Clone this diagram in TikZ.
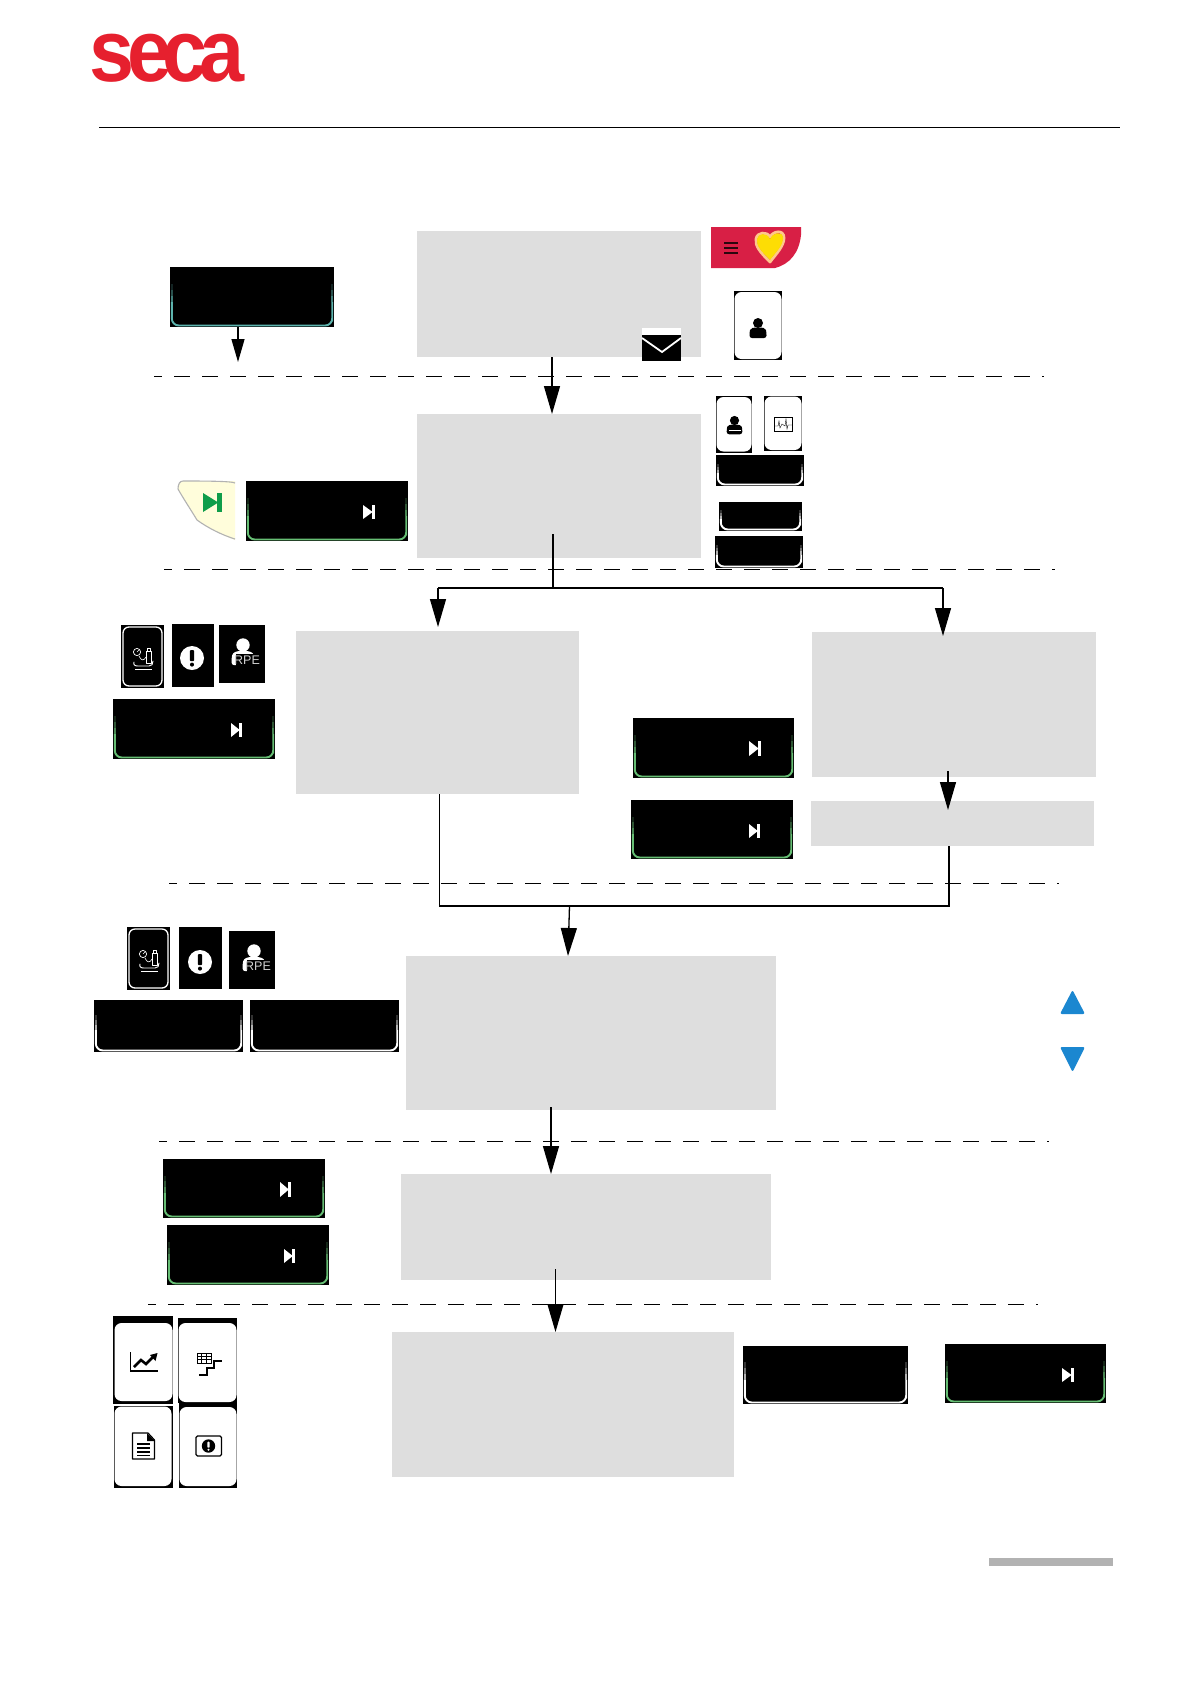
\documentclass[tikz,border=0pt]{standalone}
\usepackage{fontspec}
\setmainfont{Liberation Sans}
\usetikzlibrary{arrows.meta,calc}
\definecolor{boxgray}{HTML}{DEDEDE}
\definecolor{secared}{HTML}{E6202E}
\definecolor{hdrred}{HTML}{D81F45}
\definecolor{btngreen}{HTML}{66BE74}
\definecolor{btnteal}{HTML}{5DB4AE}
\definecolor{skipgreen}{HTML}{0F9D4A}
\definecolor{tripblue}{HTML}{1B87D0}
\definecolor{barcol}{HTML}{B2B2B2}
\tikzset{
  graybox/.style={rectangle,fill=boxgray,inner sep=0pt,outer sep=0pt},
  blackbox/.style={rectangle,fill=black,inner sep=0pt,outer sep=0pt},
  cardface/.style={rectangle,fill=white,rounded corners=7pt,inner sep=0pt,outer sep=0pt},
  flow/.style={line width=1.3pt,-{Triangle[length=28pt,width=16pt]}},
  flowsmall/.style={line width=1.3pt,-{Triangle[length=23pt,width=13pt]}},
  trunk/.style={line width=1.7pt},
  sep/.style={line width=0.95pt,dash pattern=on 16pt off 12pt},
  iconline/.style={line width=0.9pt,line cap=round,line join=round},
}
\newcommand\rectn[6]{\node[#1,minimum width={(#5-#3)*1pt},minimum height={(#6-#4)*1pt},anchor=north west] (#2) at (#3,#4) {};}
% button: name x1 y1 x2 y2 colour
\newcommand\btn[6]{%
  \rectn{blackbox}{#1}{#2}{#3}{#4}{#5}
  \pgfmathsetmacro\bH{#5-#3}
  \draw[#6,line width=1.9pt,rounded corners=7pt] ({#2+1.8},{#5-0.42*\bH}) -- ({#2+1.8},{#5-1.5}) -- ({#4-1.8},{#5-1.5}) -- ({#4-1.8},{#5-1.5}) -- ({#4-1.8},{#5-0.42*\bH});
  \foreach \k/\p in {0/70,1/45,2/20}{
    \draw[#6!\p!black,line width=1.9pt] ({#2+1.8},{#5-(0.42+0.1*\k)*\bH}) -- ({#2+1.8},{#5-(0.52+0.1*\k)*\bH});
    \draw[#6!\p!black,line width=1.9pt] ({#4-1.8},{#5-(0.42+0.1*\k)*\bH}) -- ({#4-1.8},{#5-(0.52+0.1*\k)*\bH});
  }
}
\newcommand\skipi[5]{%
  \pgfmathsetmacro\sW{#3-#1}
  \fill[#5] (#1,#2) -- ({#3-0.2*\sW},{(#2+#4)/2}) -- (#1,#4) -- cycle;
  \fill[#5] ({#3-0.27*\sW},#2) rectangle (#3,#4);
}
% person: cx headcy r colour
\newcommand\personi[4]{%
  \fill[#4] (#1,#2) circle ({#3});
  \fill[#4,rounded corners=2.5pt] ({#1-1.7*#3},{#2+3*#3}) -- ({#1-1.7*#3},{#2+1.9*#3}) .. controls ({#1-1.5*#3},{#2+1.0*#3}) and ({#1-0.8*#3},{#2+0.9*#3}) .. (#1,{#2+0.9*#3}) .. controls ({#1+0.8*#3},{#2+0.9*#3}) and ({#1+1.5*#3},{#2+1.0*#3}) .. ({#1+1.7*#3},{#2+1.9*#3}) -- ({#1+1.7*#3},{#2+3*#3}) -- cycle;
}
% alert: cx cy r circle-colour mark-colour
\newcommand\alerti[5]{%
  \fill[#4] (#1,#2) circle ({#3});
  \fill[#5,rounded corners=0.8pt] ({#1-0.18*#3},{#2-0.65*#3}) rectangle ({#1+0.18*#3},{#2+0.25*#3});
  \fill[#5] (#1,{#2+0.55*#3}) circle ({0.17*#3});
}
% cuff card, origin at top left
\newcommand\cuffcard[2]{%
  \begin{scope}[shift={(#1,#2)}]
    \draw[white,line width=1.3pt,rounded corners=6pt] (2,2) rectangle (41,61);
    \draw[white,line width=0.7pt] (16,27) circle (3.6);
    \draw[white,line width=0.5pt] (16,27) -- (18,25);
    \draw[white,iconline] (25,26) rectangle (30,38);
    \draw[white,iconline] (26,26) -- (26,23.5) -- (29,23.5) -- (29,26);
    \draw[white,line width=0.6pt] (18,31) .. controls (20,36) and (23,36) .. (25,32);
    \draw[white,iconline] (13,37) .. controls (12,40) and (14,41) .. (17,41) -- (28,41) .. controls (31,41) and (32,39) .. (32,36);
    \draw[white,line width=0.7pt] (14,44) -- (31,44);
  \end{scope}
}
% RPE card content: head centre
\newcommand\rpei[3]{%
  \personi{#1}{#2}{6.7}{white}
  \fill[black] ({#1-7},{#2+8.5}) rectangle ({#1+16},{#2+22});
  \node[text=white!82!black,font=\fontsize{12.5}{12.5}\selectfont,inner sep=0pt] (#3) at ({#1+4},{#2+15.5}) {RPE};
}
\begin{document}
\begin{tikzpicture}[x=1pt,y=-1pt]
\useasboundingbox (0,0) rectangle (1190,1684);
\fill[white] (0,0) rectangle (1190,1684);

% logo and header rule
\node[text=secared,inner sep=0pt,font=\fontsize{88}{88}\bfseries\selectfont,xscale=0.92,anchor=center] (logo) at (167,58) {s\kern-8pt e\kern-10pt c\kern-9pt a};
\coordinate (ruleL) at (99,127.5);
\coordinate (ruleR) at (1120,127.5);
\draw[line width=1.2pt] (ruleL) -- (ruleR);

% grey text boxes
\rectn{graybox}{b1}{417}{231}{701}{357}
\rectn{graybox}{b2}{417}{414}{701}{558}
\rectn{graybox}{b3}{296}{631}{579}{794}
\rectn{graybox}{b4}{812}{632}{1096}{777}
\rectn{graybox}{b5}{811}{801}{1094}{846}
\rectn{graybox}{b6}{406}{956}{776}{1110}
\rectn{graybox}{b7}{401}{1174}{771}{1280}
\rectn{graybox}{b8}{392}{1332}{734}{1477}

% separators
\coordinate (s1a) at (154,376); \coordinate (s1b) at (1044,376);
\coordinate (s2a) at (164,569); \coordinate (s2b) at (1055,569);
\coordinate (s3a) at (169,883); \coordinate (s3b) at (1059,883);
\coordinate (s4a) at (159,1141); \coordinate (s4b) at (1049,1141);
\coordinate (s5a) at (148,1304); \coordinate (s5b) at (1038,1304);
\foreach \a/\b in {s1a/s1b,s2a/s2b,s3a/s3b,s4a/s4b,s5a/s5b}
  \draw[sep,dash phase=8pt] (\a) -- (\b);

% row 1
\btn{start}{170}{267}{334}{327}{btnteal}
\coordinate (startend) at (238,362);
\draw[flowsmall] (start.south -| startend) -- (startend);

% red header with heart
\fill[hdrred] (711,227) -- (801,227) -- (801,235) .. controls (799,253) and (790,264) .. (775,268) -- (711,268) -- cycle;
\foreach \yy in {243,248,253} \draw[black!80!hdrred,line width=2pt] (724,\yy) -- (738,\yy);
\draw[white!55!orange,line width=2.8pt,line join=round] (770,262) .. controls (760,252) and (755,246) .. (756,239) .. controls (757,232) and (767,231) .. (770,237) .. controls (773,231) and (784,229) .. (784,238) .. controls (784,246) and (776,254) .. (770,262) -- cycle;
\fill[yellow!80!orange] (770,260) .. controls (761,251) and (756,246) .. (757,239) .. controls (758,233) and (767,232) .. (770,239) .. controls (773,232) and (783,231) .. (783,238) .. controls (783,246) and (776,252) .. (770,260) -- cycle;

% envelope
\fill[white] (642,328) rectangle (681,335);
\fill[black] (642,335) rectangle (681,361);
\draw[white,line width=1.8pt] (642,338) -- (662,352) -- (681,338);

% user button
\rectn{blackbox}{userback}{734}{291}{782}{360}
\rectn{cardface}{userface}{734.5}{292}{781.5}{359}
\personi{758}{323}{5}{black}

\coordinate (a12) at (552,0);
\draw[flow] (b1.south -| a12) -- (b2.north -| a12);

% row 2 right
\rectn{blackbox}{passback}{716}{396}{752}{453}
\rectn{cardface}{passface}{716.5}{397}{751.5}{451.5}
\personi{734.5}{420.5}{4.6}{black}
\fill[white] (729,429.5) rectangle (741,431);
\rectn{blackbox}{ecgback}{764}{396}{802}{451}
\rectn{cardface}{ecgface}{764.5}{396.5}{801.5}{450}
\draw[line width=0.9pt] (774.5,417) rectangle (792.5,431);
\draw[line width=0.4pt] (775,426) -- (778,426) -- (779,421) -- (780,428) -- (782,424) -- (785,426) -- (786,419) -- (787,429) -- (788,425) -- (792,425);
\btn{smA}{716}{455}{804}{486}{white}
\btn{smB}{719}{502}{802}{531}{white}
\btn{smC}{715}{536}{803}{568}{white}

% skip key and button
\fill[yellow!14!white] (183,481) -- (235,481) -- (235,540) .. controls (222,535) and (208,528) .. (197,520) .. controls (191,510) and (183,498) .. (178,489) .. controls (178,484) and (180,481) .. (183,481) -- cycle;
\draw[black!30!white,line width=1.1pt] (235,483) .. controls (232,481) and (200,481) .. (183,481) .. controls (180,481) and (178,484) .. (178,489) .. controls (183,498) and (191,510) .. (197,520) .. controls (208,528) and (222,535) .. (235,539);
\skipi{203}{493}{222}{512}{skipgreen}
\btn{next1}{246}{481}{408}{541}{btngreen}
\skipi{363}{505}{375}{519}{white}

% row 3 left
\rectn{blackbox}{cuff1}{121}{625}{164}{688}
\cuffcard{121}{625}
\rectn{blackbox}{alert1}{172}{624}{214}{687}
\alerti{192}{658}{12}{white}{black}
\rectn{blackbox}{rpe1}{219}{625}{265}{683}
\rpei{243}{645}{rpetext1}
\btn{next2}{113}{699}{275}{759}{btngreen}
\skipi{231}{723}{242}{737}{white}

% row 3 middle
\btn{next3}{633}{718}{794}{778}{btngreen}
\skipi{749}{741}{761}{756}{white}
\btn{next4}{631}{800}{793}{859}{btngreen}
\skipi{749}{824}{760}{838}{white}

% branching flow from box 2
\coordinate (j1) at (553,534);
\coordinate (j2) at (553,588);
\coordinate (jl) at (438,588);
\coordinate (jr) at (943,588);
\draw[trunk] (j1) -- (j2);
\draw[trunk] (jl) -- (jr);
\coordinate (tipl) at (438,627);
\coordinate (tipr) at (943,636);
\draw[flow] (jl) -- (tipl);
\draw[flow] (jr) -- (tipr);

% box 4 to box 5
\coordinate (a45) at (948,771);
\coordinate (tip45) at (948,810);
\draw[flow] (a45) -- (tip45);

% merge into box 6
\coordinate (ml) at (439.5,906);
\coordinate (mr) at (949,906);
\draw[trunk] (b3.south -| ml) -- (ml) -- (mr) -- (b5.south -| mr);
\coordinate (mc) at (569.5,906);
\coordinate (mt) at (568,956);
\draw[flow] (mc) -- (mt);

% row 4 left
\rectn{blackbox}{cuff2}{127}{927}{170}{990}
\cuffcard{127}{927}
\rectn{blackbox}{alert2}{179}{927}{222}{989}
\alerti{200}{962}{12}{white}{black}
\rectn{blackbox}{rpe2}{229}{931}{275}{989}
\rpei{254}{951}{rpetext2}
\btn{wide1}{94}{1000}{243}{1052}{white}
\btn{wide2}{250}{1000}{399}{1052}{white}

% scroll triangles
\fill[tripblue,rounded corners=2pt] (1060,1014) -- (1072.5,990) -- (1085,1014) -- cycle;
\fill[tripblue,rounded corners=2pt] (1060,1047) -- (1085,1047) -- (1072.5,1072) -- cycle;

% box 6 to box 7
\coordinate (a67) at (551,1107);
\draw[flow] (a67) -- (b7.north -| a67);

% row 5
\btn{next5}{163}{1159}{325}{1218}{btngreen}
\skipi{280}{1182}{291}{1197}{white}
\btn{next6}{167}{1225}{329}{1285}{btngreen}
\skipi{284}{1249}{295}{1263}{white}

% box 7 to box 8
\coordinate (a78) at (555.5,1269);
\draw[flow] (a78) -- (b8.north -| a78);

% row 6 cards
\rectn{blackbox}{cardAb}{113}{1316}{173}{1404}
\rectn{cardface}{cardAf}{114.5}{1323}{172.5}{1401}
\rectn{blackbox}{cardBb}{178}{1318}{237}{1403}
\rectn{cardface}{cardBf}{178.5}{1323}{236.5}{1402}
\rectn{blackbox}{cardCb}{114}{1406}{172.5}{1488}
\rectn{cardface}{cardCf}{114.5}{1406.5}{171.5}{1486}
\rectn{blackbox}{cardDb}{179}{1403}{237}{1488}
\rectn{cardface}{cardDf}{179.5}{1407}{236.5}{1486}
% chart
\draw[line width=1.2pt] (130.5,1352) -- (130.5,1371) -- (158,1371);
\draw[line width=2.6pt,line join=miter] (134,1367) -- (141,1360) -- (146,1364) -- (153,1357);
\fill (157.5,1353) -- (155.5,1361) -- (150,1355) -- cycle;
% table and stairs
\draw[line width=0.8pt] (197,1353) rectangle (211,1363);
\draw[line width=0.6pt] (197,1356.3) -- (211,1356.3) (197,1359.6) -- (211,1359.6) (201.7,1353) -- (201.7,1363) (206.4,1353) -- (206.4,1363);
\draw[line width=1.1pt] (199,1375) -- (207,1375) -- (207,1368) -- (214,1368) -- (214,1361) -- (222,1361);
% document
\draw[line width=1.2pt,line join=round] (132.5,1433) -- (148,1433) -- (154.5,1440) -- (154.5,1459) -- (132.5,1459) -- cycle;
\fill (147,1433) -- (155,1441) -- (147,1441) -- cycle;
\foreach \yy in {1444,1448,1452,1455.5} \draw[line width=1.1pt] (137,\yy) -- (150,\yy);
% alert screen
\draw[line width=1.3pt,rounded corners=1.5pt] (196,1436) rectangle (221.5,1456);
\alerti{208.5}{1446}{6.7}{black}{white}

% row 6 buttons
\btn{end1}{743}{1346}{908}{1404}{white}
\btn{end2}{945}{1344}{1106}{1403}{btngreen}
\skipi{1062}{1368}{1074}{1382}{white}

% page number bar
\rectn{rectangle,fill=barcol,inner sep=0pt,outer sep=0pt}{pagebar}{989}{1558}{1113}{1566}
\end{tikzpicture}
\end{document}
